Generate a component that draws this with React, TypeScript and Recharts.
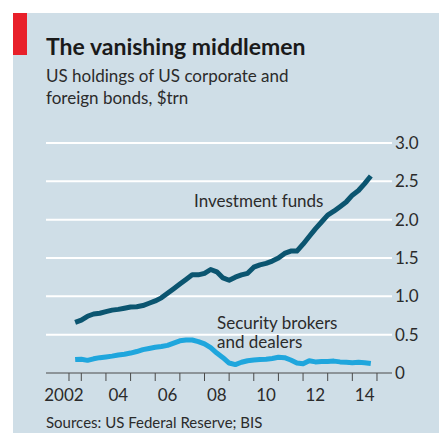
import React from 'react';
import { LineChart, Line, XAxis, YAxis, CartesianGrid } from 'recharts';

// quarterly, Q4 2002 to Q4 2014
const quarters = [
  2002.75, 2003, 2003.25, 2003.5, 2003.75, 2004, 2004.25, 2004.5, 2004.75,
  2005, 2005.25, 2005.5, 2005.75, 2006, 2006.25, 2006.5, 2006.75,
  2007, 2007.25, 2007.5, 2007.75, 2008, 2008.25, 2008.5, 2008.75,
  2009, 2009.25, 2009.5, 2009.75, 2010, 2010.25, 2010.5, 2010.75,
  2011, 2011.25, 2011.5, 2011.75, 2012, 2012.25, 2012.5, 2012.75,
  2013, 2013.25, 2013.5, 2013.75, 2014, 2014.25, 2014.5, 2014.75,
];

const investmentFunds = [
  0.66, 0.69, 0.74, 0.77, 0.78, 0.8, 0.82, 0.83, 0.845,
  0.86, 0.865, 0.88, 0.91, 0.94, 0.98, 1.04, 1.1,
  1.16, 1.22, 1.28, 1.28, 1.3, 1.35, 1.32, 1.24,
  1.21, 1.25, 1.28, 1.3, 1.38, 1.41, 1.43, 1.46,
  1.5, 1.56, 1.59, 1.59, 1.68, 1.78, 1.88, 1.97,
  2.06, 2.11, 2.17, 2.23, 2.32, 2.38, 2.47, 2.57,
];

const brokersDealers = [
  0.175, 0.18, 0.165, 0.185, 0.2, 0.21, 0.22, 0.235, 0.245,
  0.26, 0.28, 0.305, 0.32, 0.335, 0.345, 0.36, 0.39,
  0.42, 0.43, 0.43, 0.41, 0.38, 0.33, 0.26, 0.2,
  0.13, 0.11, 0.14, 0.16, 0.17, 0.175, 0.18, 0.19,
  0.205, 0.2, 0.17, 0.13, 0.12, 0.16, 0.145, 0.15,
  0.15, 0.155, 0.145, 0.14, 0.135, 0.14, 0.135, 0.125,
];

const yTicks = [0, 0.5, 1, 1.5, 2, 2.5, 3];
const yTickLabels = ['0', '0.5', '1.0', '1.5', '2.0', '2.5', '3.0'];
const gridValues = [0.5, 1, 1.5, 2, 2.5, 3];

// tick marks on year boundaries (first one marks mid-2002), labels mid-year
const xMarkTicks = [2002.5, 2003, 2004, 2005, 2006, 2007, 2008, 2009, 2010, 2011, 2012, 2013, 2014, 2015];
const xLabelTicks = [2002.5, 2004.5, 2006.5, 2008.5, 2010.5, 2012.5, 2014.5];
const xLabels = ['2002', '04', '06', '08', '10', '12', '14'];

const data = quarters.map((q, i) => ({
  q,
  funds: investmentFunds[i],
  brokers: brokersDealers[i],
}));

const FONT = 'Lato, sans-serif';
const BG = '#cfdee7';
const DARK = '#0b5570';
const LIGHT = '#1fa6dd';
const TEXT = '#2b2b2b';

const allXTicks = Array.from(new Set([...xMarkTicks, ...xLabelTicks])).sort((a, b) => a - b);

const XTick = (props: any) => {
  const { x, y, payload } = props;
  const v = payload.value;
  const li = xLabelTicks.indexOf(v);
  return (
    <g>
      {xMarkTicks.includes(v) && <line x1={x} x2={x} y1={y} y2={y + 8} stroke="#4a4a4a" strokeWidth={1} />}
      {li >= 0 && (
        <text x={li === 0 ? x - 5 : x} y={y + 28} textAnchor="middle" fill={TEXT} fontSize={17} fontFamily={FONT}>
          {xLabels[li]}
        </text>
      )}
    </g>
  );
};

const YTick = (props: any) => {
  const { x, y, payload } = props;
  const i = yTicks.indexOf(payload.value);
  return (
    <text x={x} y={y} dy="0.36em" textAnchor="start" fill={TEXT} fontSize={17} fontFamily={FONT}>
      {yTickLabels[i]}
    </text>
  );
};

export default function App() {
  return (
    <div style={{ position: 'fixed', left: 0, top: 0, width: 439, height: 433, background: '#fff', overflow: 'hidden' }}>
      <div style={{ position: 'absolute', left: 13, top: 13, width: 426, height: 420, background: BG }} />
      <div style={{ position: 'absolute', left: 13, top: 13, width: 14, height: 42, background: '#e8202a' }} />

      <div style={{ position: 'absolute', left: 46, top: 34.6, fontFamily: FONT, fontWeight: 700, fontSize: 23, lineHeight: '23px', color: '#1a1a1a', whiteSpace: 'nowrap' }}>
        The vanishing middlemen
      </div>
      <div style={{ position: 'absolute', left: 46, top: 65.2, fontFamily: FONT, fontSize: 17, lineHeight: '22.3px', color: TEXT }}>
        US holdings of US corporate and<br />foreign bonds, $trn
      </div>

      <div style={{ position: 'absolute', left: 0, top: 0 }}>
        <LineChart width={439} height={433} data={data} margin={{ top: 143, right: 7, bottom: 0, left: 46 }}>
          <CartesianGrid horizontal vertical={false} horizontalValues={gridValues} stroke="#ffffff" strokeWidth={2} />
          <XAxis
            dataKey="q"
            type="number"
            domain={[2001.567, 2015.61]}
            ticks={allXTicks}
            interval={0}
            tick={<XTick />}
            tickLine={false}
            tickSize={0}
            tickMargin={0}
            axisLine={{ stroke: '#4a4a4a', strokeWidth: 1 }}
            height={60}
          />
          <YAxis
            orientation="right"
            domain={[0, 3]}
            ticks={yTicks}
            interval={0}
            tick={<YTick />}
            tickLine={false}
            tickSize={0}
            tickMargin={3}
            axisLine={false}
            width={40}
          />
          <Line type="linear" dataKey="funds" stroke={DARK} strokeWidth={5} dot={false} isAnimationActive={false} strokeLinejoin="round" />
          <Line type="linear" dataKey="brokers" stroke={LIGHT} strokeWidth={5} dot={false} isAnimationActive={false} strokeLinejoin="round" />
        </LineChart>
      </div>

      <div style={{ position: 'absolute', left: 194, top: 191, fontFamily: FONT, fontSize: 17, lineHeight: '19px', color: TEXT, whiteSpace: 'nowrap' }}>
        Investment funds
      </div>
      <div style={{ position: 'absolute', left: 217, top: 313, fontFamily: FONT, fontSize: 17, lineHeight: '19px', color: TEXT, whiteSpace: 'nowrap' }}>
        Security brokers<br />and dealers
      </div>
      <div style={{ position: 'absolute', left: 46, top: 414, fontFamily: FONT, fontSize: 15, lineHeight: '17px', color: TEXT, whiteSpace: 'nowrap' }}>
        Sources: US Federal Reserve; BIS
      </div>
    </div>
  );
}
